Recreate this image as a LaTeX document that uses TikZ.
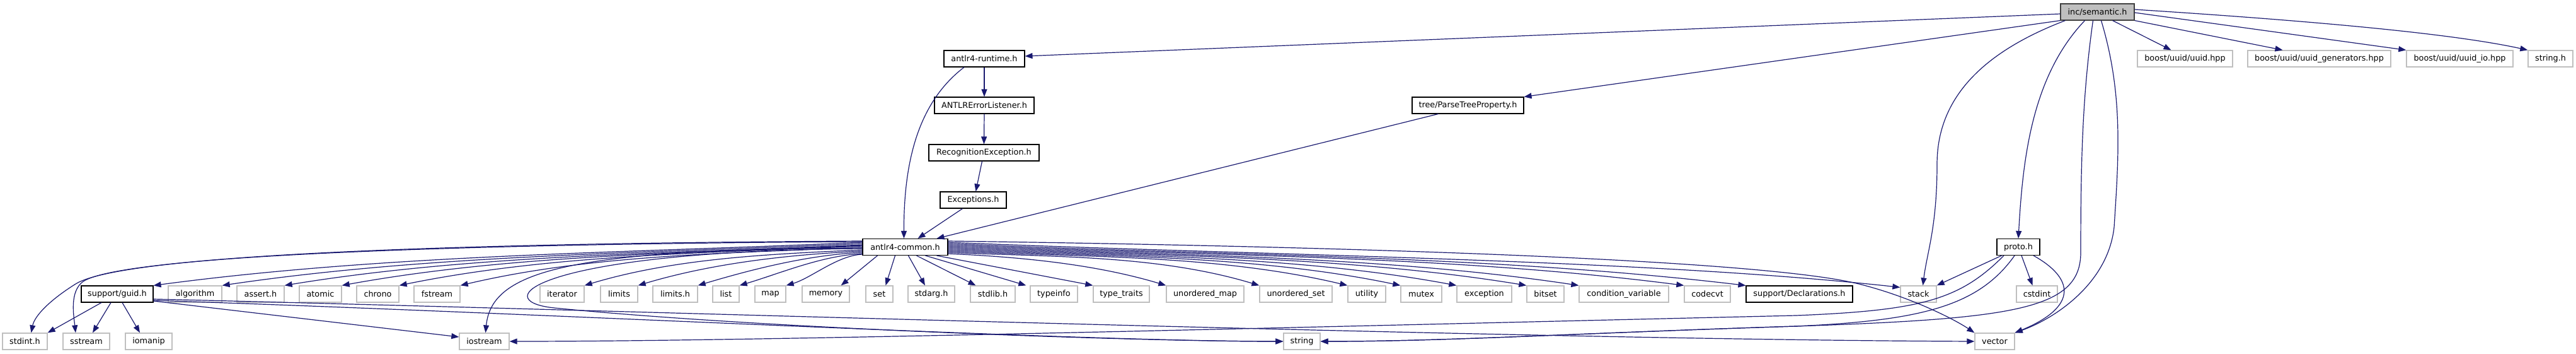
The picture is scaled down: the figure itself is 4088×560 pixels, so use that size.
\documentclass[tikz,border=0pt]{standalone}
\usepackage{fontspec}
\setmainfont{DejaVu Sans}
\usetikzlibrary{arrows.meta}
\definecolor{edgeblue}{HTML}{191970}
\definecolor{gborder}{HTML}{BFBFBF}
\definecolor{rootfill}{HTML}{BFBFBF}
\definecolor{dborder}{HTML}{404040}
\newcommand{\boxfont}{\fontsize{12.8pt}{15pt}\selectfont}
\begin{document}
\begin{tikzpicture}[x=1pt,y=-1pt,
  base/.style={rectangle, inner sep=0pt, minimum height=26pt, font=\boxfont, fill=white, text=black},
  gbox/.style={base, draw=gborder, line width=1.3pt},
  bbox/.style={base, draw=black, line width=1.1pt},
  rbox/.style={base, draw=dborder, fill=rootfill, line width=1.1pt},
  dep/.style={draw=edgeblue, line width=1.2pt, -{Triangle[length=12pt,width=9pt]}},
]
\useasboundingbox (0,0) rectangle (4088,560);
\fill[white] (0,0) rectangle (4088,560);

% row 0
\node[rbox, minimum width=117pt] (sem) at (3328.5,19) {inc/semantic.h};
% row 1
\node[bbox, minimum width=128pt] (rt) at (1562,93) {antlr4-runtime.h};
\node[gbox, minimum width=151pt] (uuid) at (3467.5,93) {boost/uuid/uuid.hpp};
\node[gbox, minimum width=227pt] (gen) at (3680.5,93) {boost/uuid/uuid\_generators.hpp};
\node[gbox, minimum width=169pt] (uio) at (3903.5,93) {boost/uuid/uuid\_io.hpp};
\node[gbox, minimum width=71pt] (sth) at (4047.5,93) {string.h};
% row 2
\node[bbox, minimum width=158pt] (ael) at (1562,167) {ANTLRErrorListener.h};
\node[bbox, minimum width=177pt] (ptp) at (2329.5,167) {tree/ParseTreeProperty.h};
% row 3,4
\node[bbox, minimum width=175pt] (re) at (1561.5,242) {RecognitionException.h};
\node[bbox, minimum width=105pt] (exc) at (1544.5,317) {Exceptions.h};
% row 5
\node[bbox, minimum width=135pt] (ac) at (1436.5,391.5) {antlr4-common.h};
\node[bbox, minimum width=68pt] (proto) at (3203,391.5) {proto.h};
% row 6
\node[bbox, minimum width=114pt] (guid) at (186,466) {support/guid.h};
\node[gbox, minimum width=85pt] (alg) at (309.5,466) {algorithm};
\node[gbox, minimum width=75pt] (ast) at (413.5,466) {assert.h};
\node[gbox, minimum width=67pt] (atm) at (508.5,466) {atomic};
\node[gbox, minimum width=67pt] (chr) at (599.5,466) {chrono};
\node[gbox, minimum width=73pt] (fst) at (693.5,466) {fstream};
\node[gbox, minimum width=70pt] (itr) at (892,466) {iterator};
\node[gbox, minimum width=59pt] (lim) at (982.5,466) {limits};
\node[gbox, minimum width=71pt] (limh) at (1071.5,466) {limits.h};
\node[gbox, minimum width=42pt] (lst) at (1152,466) {list};
\node[gbox, minimum width=49pt] (mapn) at (1222.5,466) {map};
\node[gbox, minimum width=75pt] (mem) at (1310.5,466) {memory};
\node[gbox, minimum width=43pt] (setn) at (1395.5,466) {set};
\node[gbox, minimum width=74pt] (sta) at (1478,466) {stdarg.h};
\node[gbox, minimum width=71pt] (stl) at (1575.5,466) {stdlib.h};
\node[gbox, minimum width=75pt] (tyi) at (1672.5,466) {typeinfo};
\node[gbox, minimum width=89pt] (tyt) at (1779.5,466) {type\_traits};
\node[gbox, minimum width=123pt] (umap) at (1912.5,466) {unordered\_map};
\node[gbox, minimum width=115pt] (uset) at (2056.5,466) {unordered\_set};
\node[gbox, minimum width=60pt] (utl) at (2169,466) {utility};
\node[gbox, minimum width=65pt] (mtx) at (2255.5,466) {mutex};
\node[gbox, minimum width=87pt] (exn) at (2355.5,466) {exception};
\node[gbox, minimum width=59pt] (bts) at (2452.5,466) {bitset};
\node[gbox, minimum width=142pt] (cv) at (2577,466) {condition\_variable};
\node[gbox, minimum width=73pt] (cvt) at (2709.5,466) {codecvt};
\node[bbox, minimum width=169pt] (decl) at (2855.5,466) {support/Declarations.h};
\node[gbox, minimum width=57pt] (stk) at (3044.5,466) {stack};
\node[gbox, minimum width=65pt] (cst) at (3232.5,466) {cstdint};
% row 7
\node[gbox, minimum width=71pt] (sti) at (39.5,541) {stdint.h};
\node[gbox, minimum width=74pt] (sst) at (137,541) {sstream};
\node[gbox, minimum width=74pt] (iom) at (236,541) {iomanip};
\node[gbox, minimum width=79pt] (ios) at (768.5,541) {iostream};
\node[gbox, minimum width=58pt] (str) at (2066,541) {string};
\node[gbox, minimum width=63pt] (vec) at (3165.5,541) {vector};

% ---- edges from inc/semantic.h
\draw[dep] ([yshift=-3pt]sem.west) -- ([yshift=4pt]rt.east);
\draw[dep] (sem.south west) -- (ptp.north east);
\draw[dep] ([xshift=8pt]sem.south west) .. controls (3140,85) and (3074,160) .. (3074,260) .. controls (3074,360) and (3058,400) .. ([xshift=7pt]stk.north);
\draw[dep] ([xshift=39pt]sem.south west) .. controls (3225,120) and (3210,250) .. (proto.north);
\draw[dep] ([xshift=52pt]sem.south west) .. controls (3305,150) and (3302,250) .. (3302,400) .. controls (3302,490) and (3200,505) .. (2850,517) .. controls (2500,528) and (2300,541) .. (str.east);
\draw[dep] ([xshift=65pt]sem.south west) .. controls (3370,150) and (3362,250) .. (3355,360) .. controls (3345,450) and (3260,505) .. (vec.north east);
\draw[dep] ([xshift=-35pt]sem.south east) -- ([xshift=-22pt]uuid.north);
\draw[dep] (sem.south east) -- ([xshift=-58pt]gen.north);
\draw[dep] ([yshift=-1pt]sem.east) -- (uio.north west);
\draw[dep] ([yshift=4pt]sem.east) .. controls (3700,35) and (3900,55) .. (sth.north west);

% ---- antlr4-runtime chain
\draw[dep] (rt.south) -- (ael.north);
\draw[dep] ([xshift=-32pt]rt.south) .. controls (1460,160) and (1434,250) .. ([xshift=-2pt]ac.north);
\draw[dep] (ael.south) -- (re.north);
\draw[dep] ([xshift=-3pt]re.south) -- ([xshift=4pt]exc.north);
\draw[dep] ([xshift=-17pt]exc.south) -- ([xshift=20pt]ac.north);
\draw[dep] ([xshift=-47pt]ptp.south) -- ([xshift=50pt]ac.north);

% ---- antlr4-common left fan
\foreach \n/\sy/\ex in {guid/384/243, alg/386/352, ast/388/451, atm/389/542, chr/390/633, fst/392/730, itr/396/927, lim/398/1012, limh/400/1107, lst/402/1173, mapn/403/1247}{
  \pgfmathsetmacro\D{1369-\ex}
  \pgfmathsetmacro\H{min(0.1*\D,50)}
  \draw[dep] ([yshift={(391.5-\sy)*1pt}]ac.west) .. controls ({1369-0.33*\D},{\sy+0.015*\D}) and ({\ex+0.33*\D},{453-\H}) .. (\n.north east);
}
% ---- antlr4-common right fan
\foreach \n/\sy/\ex in {umap/402/1851, uset/400/1999, utl/398/2139, mtx/396/2223, exn/394/2312, bts/392/2423, cv/390/2506, cvt/388/2673, decl/386/2771}{
  \pgfmathsetmacro\D{\ex-1504}
  \pgfmathsetmacro\H{min(0.1*\D,50)}
  \draw[dep] ([yshift={(391.5-\sy)*1pt}]ac.east) .. controls ({1504+0.33*\D},{\sy+0.015*\D}) and ({\ex-0.33*\D},{453-\H}) .. (\n.north west);
}
\draw[dep] ([yshift=7.5pt]ac.east) .. controls (2003,405) and (2600,410) .. ([yshift=-3pt]stk.north west);
\draw[dep] ([yshift=9.5pt]ac.east) .. controls (2100,390) and (2790,410) .. (2950,450) .. controls (3030,470) and (3100,505) .. (vec.north west);
% ---- antlr4-common straight down
\draw[dep] ([xshift=-44pt]ac.south) -- ([xshift=-14pt]mem.north east);
\draw[dep] ([xshift=-16pt]ac.south) -- ([xshift=10pt]setn.north);
\draw[dep] ([xshift=5pt]ac.south) -- ([xshift=-10pt]sta.north);
\draw[dep] ([xshift=18pt]ac.south) -- ([xshift=-27pt]stl.north);
\draw[dep] ([xshift=32pt]ac.south) -- ([xshift=-6pt]tyi.north west);
\draw[dep] ([xshift=50pt]ac.south) -- (tyt.north west);
% ---- antlr4-common long curves
\draw[dep] ([yshift=9.5pt]ac.west) .. controls (800,385) and (200,400) .. (120,450) .. controls (80,475) and (55,500) .. ([xshift=10pt]sti.north);
\draw[dep] ([yshift=8.5pt]ac.west) .. controls (800,386) and (200,402) .. (132,446) .. controls (110,462) and (117,500) .. ([xshift=-17pt]sst.north);
\draw[dep] ([yshift=-1.5pt]ac.west) .. controls (900,395) and (780,430) .. ([xshift=2pt]ios.north);
\draw[dep] ([yshift=-2.5pt]ac.west) .. controls (850,398) and (770,477) .. (880,488) .. controls (1200,520) and (1800,541) .. (str.west);

% ---- support/guid.h
\draw[dep] ([xshift=-25pt]guid.south) -- (sti.north east);
\draw[dep] ([xshift=-10pt]guid.south) -- ([xshift=10pt]sst.north);
\draw[dep] ([xshift=8pt]guid.south) -- ([xshift=-14pt]iom.north);
\draw[dep] ([yshift=-11pt]guid.east) -- ([yshift=7pt]ios.west);
\draw[dep] ([yshift=-10pt]guid.east) .. controls (900,498) and (1700,541) .. (str.west);
\draw[dep] ([yshift=-8pt]guid.east) .. controls (1000,492) and (2400,538) .. (vec.west);

% ---- proto.h
\draw[dep] ([xshift=8pt]proto.south west) -- (stk.north east);
\draw[dep] ([xshift=5pt]proto.south) -- ([xshift=-7pt]cst.north);
\draw[dep] ([xshift=24pt]proto.south) .. controls (3290,440) and (3300,485) .. (vec.north east);
\draw[dep] ([xshift=-23pt]proto.south) .. controls (3110,475) and (3050,492) .. (2850,500) .. controls (2000,520) and (1200,541) .. (ios.east);
\draw[dep] ([xshift=-6pt]proto.south) .. controls (3140,485) and (3050,508) .. (2850,517) .. controls (2500,528) and (2300,541) .. (str.east);
\end{tikzpicture}
\end{document}
